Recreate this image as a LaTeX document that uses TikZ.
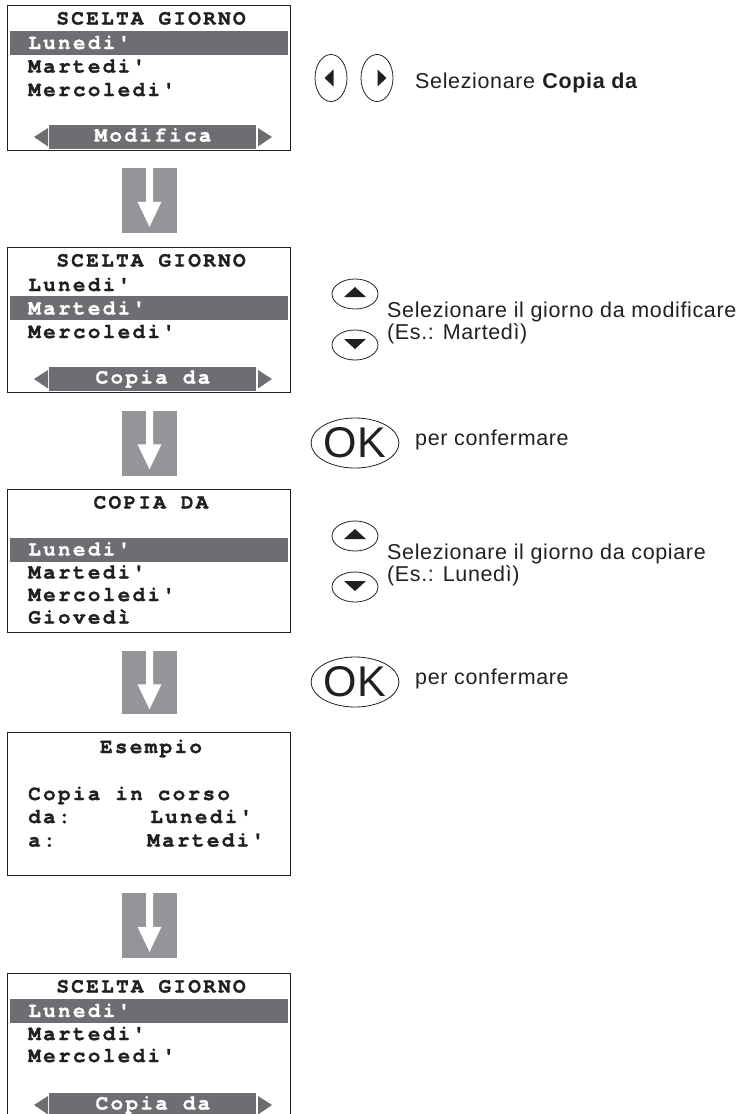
\documentclass[tikz,border=0pt]{standalone}
\usepackage{fontspec}
\setmainfont{Liberation Sans}[LetterSpace=3]
\setmonofont{TeX Gyre Cursor}[LetterSpace=11, Ligatures=NoCommon, BoldFeatures={FakeBold=1.2}]
\newfontfamily\okfont{Liberation Sans}
\usetikzlibrary{shapes.geometric,calc}
\definecolor{ink}{HTML}{231F20}
\definecolor{hlgray}{HTML}{6D6E71}
\definecolor{arrgray}{HTML}{939598}
\tikzset{
  screen/.style={draw=ink, line width=1.3pt, anchor=north west, minimum width=283pt, minimum height=145pt, inner sep=0pt},
  hlbar/.style={fill=hlgray},
  lcd/.style={font=\ttfamily\bfseries\fontsize{21}{23}\selectfont, text=ink, inner sep=0pt, anchor=base west},
  lcdw/.style={lcd, text=white},
  lcdc/.style={lcd, anchor=base},
  lcdcw/.style={lcdc, text=white},
  arrbox/.style={fill=arrgray, minimum width=55pt, minimum height=65pt, inner sep=0pt},
  lrbtn/.style={ellipse, draw=ink, line width=0.8pt, minimum width=32pt, minimum height=47pt, inner sep=0pt},
  udbtn/.style={ellipse, draw=ink, line width=0.8pt, minimum width=46pt, minimum height=30pt, inner sep=0pt},
  okbtn/.style={ellipse, draw=ink, line width=0.8pt, minimum width=76pt, minimum height=50pt, inner sep=0pt, font=\okfont\fontsize{43}{43}\selectfont, text=ink},
  instr/.style={font=\fontsize{21.5}{22}\selectfont, text=ink, inner sep=0pt, anchor=base west},
}
\newcommand\whitearrow[1]{%
  \fill[white] ($(#1.north)+(-3.5,0)$) -- ($(#1.north)+(-3.5,34)$) -- ($(#1.north)+(-12,34)$)
    -- ($(#1.north)+(0,59)$) -- ($(#1.north)+(12,34)$) -- ($(#1.north)+(3.5,34)$)
    -- ($(#1.north)+(3.5,0)$) -- cycle;}
\newcommand\barbuttons[1]{%
  \fill[hlgray] (34,#1+132) -- (48,#1+123) -- (48,#1+141.5) -- cycle;
  \fill[hlgray] (272,#1+132) -- (258,#1+123) -- (258,#1+141.5) -- cycle;
  \fill[hlgray] (49,#1+120) rectangle (256,#1+143.5);}
\begin{document}
\begin{tikzpicture}[x=1pt,y=-1pt]
\useasboundingbox (0,0) rectangle (747,1114);

% ---------- screen 1 (top 5)
\fill[hlgray] (9.5,31) rectangle (287.5,55);
\barbuttons{5}
\node[screen] (s1) at (7,5) {};
\node[lcdc] (s1h) at (151,24.5) {SCELTA GIORNO};
\node[lcdw] (s1a) at (28,49) {Lunedi'};
\node[lcd] (s1b) at (28,72.5) {Martedi'};
\node[lcd] (s1c) at (28,96) {Mercoledi'};
\node[lcdcw] (s1m) at (153,141.5) {Modifica};

\node[lrbtn] (bl) at (331,78) {};
\node[lrbtn] (br) at (377,78) {};
\fill[ink] (324.5,78) -- (333.5,69.5) -- (333.5,86.5) -- cycle;
\fill[ink] (386.5,78) -- (377.5,69.5) -- (377.5,86.5) -- cycle;
\node[instr] (t1) at (415,88) {Selezionare \textbf{Copia da}};

% ---------- arrow 1
\node[arrbox] (a1) at (149.5,200.5) {};
\whitearrow{a1}

% ---------- screen 2 (top 247)
\fill[hlgray] (9.5,296) rectangle (287.5,320);
\barbuttons{247}
\node[screen] (s2) at (7,247) {};
\node[lcdc] (s2h) at (151,266.5) {SCELTA GIORNO};
\node[lcd] (s2a) at (28,291) {Lunedi'};
\node[lcdw] (s2b) at (28,314.5) {Martedi'};
\node[lcd] (s2c) at (28,338) {Mercoledi'};
\node[lcdcw] (s2m) at (153,383.5) {Copia da};

\node[udbtn] (up1) at (355,294) {};
\node[udbtn] (dn1) at (355,345) {};
\fill[ink] (355,287) -- (366,297) -- (344,297) -- cycle;
\fill[ink] (355,349) -- (366,339) -- (344,339) -- cycle;
\node[instr] (t2) at (387,317) {Selezionare il giorno da modificare};
\node[instr] (t3) at (387,339.5) {(Es.: Martedì)};

% ---------- arrow 2
\node[arrbox] (a2) at (149.5,443) {};
\whitearrow{a2}
\node[okbtn] (ok1) at (355,443) {OK};
\node[instr] (t4) at (415,445) {per confermare};

% ---------- screen 3 (top 489)
\fill[hlgray] (9.5,538) rectangle (287.5,562);
\node[screen, minimum height=143pt] (s3) at (7,489) {};
\node[lcdc] (s3h) at (151,508.5) {COPIA DA};
\node[lcdw] (s3a) at (28,555.5) {Lunedi'};
\node[lcd] (s3b) at (28,578.5) {Martedi'};
\node[lcd] (s3c) at (28,601) {Mercoledi'};
\node[lcd] (s3d) at (28,623.5) {Giovedì};

\node[udbtn] (up2) at (355,536) {};
\node[udbtn] (dn2) at (355,587) {};
\fill[ink] (355,529) -- (366,539) -- (344,539) -- cycle;
\fill[ink] (355,591) -- (366,581) -- (344,581) -- cycle;
\node[instr] (t5) at (387,559) {Selezionare il giorno da copiare};
\node[instr] (t6) at (387,581.5) {(Es.: Lunedì)};

% ---------- arrow 3
\node[arrbox, minimum height=63pt] (a3) at (149.5,682) {};
\whitearrow{a3}
\node[okbtn] (ok2) at (355,682) {OK};
\node[instr] (t7) at (415,684) {per confermare};

% ---------- screen 4 (top 732)
\node[screen, minimum height=143pt] (s4) at (7,732) {};
\node[lcdc] (s4h) at (151,753) {Esempio};
\node[lcd] (s4a) at (28,800) {Copia in corso};
\node[lcd] (s4b) at (28,823) {da:};
\node[lcd] (s4c) at (150,823) {Lunedi'};
\node[lcd] (s4d) at (28,846.5) {a:};
\node[lcd] (s4e) at (147,846.5) {Martedi'};

% ---------- arrow 4
\node[arrbox] (a4) at (149.5,925.5) {};
\whitearrow{a4}

% ---------- screen 5 (top 973)
\fill[hlgray] (9.5,999) rectangle (287.5,1023);
\barbuttons{973}
\node[screen] (s5) at (7,973) {};
\node[lcdc] (s5h) at (151,992.5) {SCELTA GIORNO};
\node[lcdw] (s5a) at (28,1017) {Lunedi'};
\node[lcd] (s5b) at (28,1040) {Martedi'};
\node[lcd] (s5c) at (28,1062) {Mercoledi'};
\node[lcdcw] (s5m) at (153,1109.5) {Copia da};
\end{tikzpicture}
\end{document}
